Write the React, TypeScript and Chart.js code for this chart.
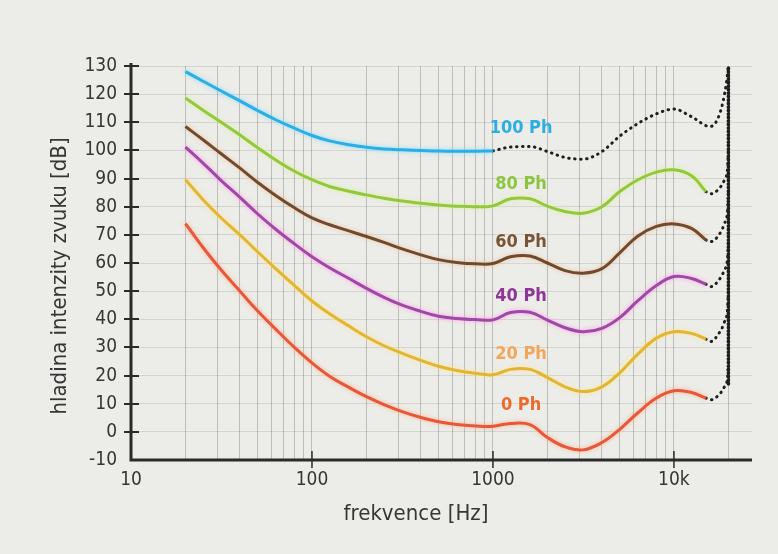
import React, { useEffect, useRef } from 'react';
import { Chart, registerables } from 'chart.js';

Chart.register(...registerables);

// ---------- data ----------
const freqs = [20, 25, 31.5, 40, 50, 63, 80, 100, 125, 160, 200, 250, 315, 400, 500, 630, 800, 1000, 1250, 1600, 2000, 2500, 3150, 4000, 5000, 6300, 8000, 10000, 12500, 15000];

const phon0 = [74, 65.5, 57.5, 50, 43, 36.5, 30, 24.5, 19.8, 15.8, 12.5, 9.7, 7.2, 5.1, 3.6, 2.6, 2.1, 2.0, 3.0, 2.6, -2, -5.3, -6.4, -3.8, 0.8, 6.7, 12, 14.6, 14, 12];
const phon20 = [89.6, 82.5, 76, 70, 64, 58, 52, 46.5, 42, 37.6, 33.8, 30.6, 27.9, 25.4, 23.3, 21.8, 20.8, 20.3, 22.2, 22.2, 19.3, 16, 14.3, 16, 20.9, 27.5, 33.3, 35.6, 35, 33];
const phon40 = [101.2, 95.5, 89.3, 83.3, 77.5, 72, 66.8, 62.2, 58.3, 54.5, 51, 47.8, 45, 42.8, 41.1, 40.3, 39.9, 39.8, 42.4, 42.5, 39.7, 37, 35.6, 36.8, 40.5, 46.5, 52, 55.2, 54.5, 52.5];
const phon60 = [108.5, 103.8, 98.8, 93.7, 88.7, 84, 79.6, 76, 73.6, 71.4, 69.4, 67.3, 65, 62.9, 61.2, 60.2, 59.7, 59.8, 62.2, 62.5, 60, 57.3, 56.4, 58, 63.5, 69.5, 73, 73.9, 72.3, 68.2];
const phon80 = [118.6, 114.3, 110, 105.5, 101, 96.6, 92.6, 89.6, 87.2, 85.5, 84.2, 83, 82, 81.2, 80.6, 80.2, 80, 80.3, 82.8, 82.8, 80.2, 78.3, 77.7, 80, 85.3, 89.5, 92.3, 93.1, 91, 85.4];

const freqs100 = [20, 25, 31.5, 40, 50, 63, 80, 100, 125, 160, 200, 250, 315, 400, 500, 630, 800, 1000];
const phon100 = [128, 124.6, 121.1, 117.6, 114.2, 110.9, 107.9, 105.3, 103.4, 102, 101.1, 100.5, 100.2, 100, 99.8, 99.7, 99.7, 99.8];

// dotted (extrapolated) parts
const freqs100Dot = [1000, 1250, 1600, 2000, 2500, 3150, 4000, 5000, 6300, 8000, 10000, 12500, 15800, 17900, 19500, 20000];
const phon100Dot = [99.8, 101.2, 101.4, 99.6, 97.5, 96.9, 99.6, 105, 109.5, 113, 114.7, 112, 108.5, 113, 124, 130];
const dotFreqs = [15000, 16000, 17500, 19000, 19800, 20000];
const phon80Dot = [85.4, 84.6, 86, 89.5, 94, 100];
const phon60Dot = [68.2, 67.6, 69.5, 74, 79, 85];
const phon40Dot = [52.5, 51.6, 53.5, 57.5, 62, 68];
const phon20Dot = [33, 32.1, 34.5, 39, 44, 50];
const phon0Dot = [12, 11.4, 12.8, 16, 19.5, 24];
const edgeFreqs = [20000, 20000];
const edgeValues = [17, 130];

// axis ticks
const xGridValues = [10, 20, 30, 40, 50, 60, 70, 80, 90, 100, 200, 300, 400, 500, 600, 700, 800, 900, 1000, 2000, 3000, 4000, 5000, 6000, 7000, 8000, 9000, 10000, 20000];
const xLabelValues = [10, 100, 1000, 10000];
const xLabelTexts = ['10', '100', '1000', '10k'];
const yMin = -10;
const yMax = 130;
const yStep = 10;

// curve labels
const curveLabels = ['100 Ph', '80 Ph', '60 Ph', '40 Ph', '20 Ph', '0 Ph'];
const curveLabelFreq = 1430;
const curveLabelDb = [108, 88.1, 67.5, 48, 27.7, 9.6];

// ---------- styles ----------
const W = 778;
const H = 554;
const BG = '#ecece8';
const FONT = '"DejaVu Sans Condensed", "Liberation Sans Narrow", sans-serif';
const TEXT = '#363636';
const lineColors = ['#2aaee3', '#93c83e', '#6e4b2f', '#a048a8', '#e2b532', '#e8573a'];
const haloColors = ['rgba(120,220,255,0.9)', 'rgba(210,245,130,0.8)', 'rgba(245,185,140,0.8)', 'rgba(255,150,230,0.9)', 'rgba(255,230,120,0.8)', 'rgba(255,170,120,0.8)'];
const labelColors = ['#2aaee3', '#8cc63e', '#7a5535', '#8e3596', '#f2a65a', '#ee6a2c'];

const pts = (xs: number[], ys: number[]) => xs.map((x, i) => ({ x, y: ys[i] }));

const solid = (xs: number[], ys: number[], i: number) => ({
  data: pts(xs, ys),
  borderColor: lineColors[i],
  borderWidth: 3,
  pointRadius: 0,
  tension: 0.4,
  halo: haloColors[i],
});

const dotted = (xs: number[], ys: number[], dash = [0.5, 5.5], width = 3) => ({
  data: pts(xs, ys),
  borderColor: '#1e1e1e',
  borderWidth: width,
  borderDash: dash,
  borderCapStyle: 'round',
  pointRadius: 0,
  cubicInterpolationMode: 'monotone',
});

const decor = {
  id: 'decor',
  beforeDatasetDraw(chart: any, args: any) {
    const ds = chart.data.datasets[args.index];
    if (ds.halo) {
      chart.ctx.save();
      chart.ctx.shadowColor = ds.halo;
      chart.ctx.shadowBlur = 4;
    }
  },
  afterDatasetDraw(chart: any, args: any) {
    const ds = chart.data.datasets[args.index];
    if (ds.halo) chart.ctx.restore();
  },
  afterDraw(chart: any) {
    const { ctx, chartArea: a, scales } = chart;
    const xs = scales.x;
    const ys = scales.y;
    ctx.save();
    // axis lines
    ctx.strokeStyle = '#2a2a2a';
    ctx.lineWidth = 3;
    ctx.beginPath();
    ctx.moveTo(a.left, a.top - 3);
    ctx.lineTo(a.left, a.bottom);
    ctx.lineTo(a.right, a.bottom);
    ctx.stroke();
    // y tick marks
    ctx.lineWidth = 2;
    for (let v = yMin + yStep; v <= yMax; v += yStep) {
      const py = Math.round(ys.getPixelForValue(v));
      ctx.beginPath();
      ctx.moveTo(a.left - 7, py);
      ctx.lineTo(a.left + 8, py);
      ctx.stroke();
    }
    // x tick marks
    ctx.lineWidth = 1.5;
    xLabelValues.slice(1).forEach((v) => {
      const px = xs.getPixelForValue(v);
      ctx.beginPath();
      ctx.moveTo(px, a.bottom - 9);
      ctx.lineTo(px, a.bottom + 8);
      ctx.stroke();
    });
    // titles
    ctx.fillStyle = TEXT;
    ctx.font = `22px ${FONT}`;
    ctx.textAlign = 'center';
    ctx.textBaseline = 'middle';
    ctx.fillText('frekvence [Hz]', 416, 514);
    ctx.save();
    ctx.translate(60, 276);
    ctx.rotate(-Math.PI / 2);
    ctx.fillText('hladina intenzity zvuku [dB]', 0, 0);
    ctx.restore();
    // curve labels
    ctx.font = `bold 18px ${FONT}`;
    curveLabels.forEach((t, i) => {
      ctx.fillStyle = labelColors[i];
      ctx.fillText(t, xs.getPixelForValue(curveLabelFreq), ys.getPixelForValue(curveLabelDb[i]));
    });
    ctx.restore();
  },
};

export default function App() {
  const ref = useRef<HTMLCanvasElement>(null);
  useEffect(() => {
    const canvas = ref.current as HTMLCanvasElement;
    const chart = new Chart(canvas, {
      type: 'line',
      data: {
        datasets: [
          solid(freqs100, phon100, 0),
          solid(freqs, phon80, 1),
          solid(freqs, phon60, 2),
          solid(freqs, phon40, 3),
          solid(freqs, phon20, 4),
          solid(freqs, phon0, 5),
          dotted(freqs100Dot, phon100Dot),
          dotted(dotFreqs, phon80Dot),
          dotted(dotFreqs, phon60Dot),
          dotted(dotFreqs, phon40Dot),
          dotted(dotFreqs, phon20Dot),
          dotted(dotFreqs, phon0Dot),
          { ...dotted(edgeFreqs, edgeValues, [1, 2.5], 3.5), cubicInterpolationMode: 'default', tension: 0 },
        ] as any,
      },
      options: {
        responsive: false,
        animation: false,
        layout: { padding: { left: 0, right: 26, top: 66, bottom: 0 } },
        plugins: { legend: { display: false }, tooltip: { enabled: false } },
        scales: {
          x: {
            type: 'logarithmic',
            min: 10,
            max: 27000,
            afterBuildTicks: (s: any) => {
              s.ticks = xGridValues.map((v) => ({ value: v }));
            },
            afterFit: (s: any) => {
              s.height = 94;
            },
            ticks: {
              autoSkip: false,
              maxRotation: 0,
              minRotation: 0,
              padding: 9,
              color: TEXT,
              font: { family: FONT, size: 19 },
              callback: (v: any) => {
                const k = xLabelValues.indexOf(Number(v));
                return k >= 0 ? xLabelTexts[k] : '';
              },
            },
            grid: {
              drawTicks: false,
              color: (c: any) => (c.tick && c.tick.value === 10 ? 'rgba(0,0,0,0)' : 'rgba(0,0,0,0.2)'),
              lineWidth: 1,
            },
            border: { display: false },
          },
          y: {
            min: yMin,
            max: yMax,
            afterFit: (s: any) => {
              s.width = 131;
            },
            ticks: {
              stepSize: yStep,
              padding: 14,
              color: TEXT,
              font: { family: FONT, size: 19 },
            },
            grid: { drawTicks: false, color: 'rgba(0,0,0,0.1)', lineWidth: 1 },
            border: { display: false },
          },
        },
      } as any,
      plugins: [decor],
    });
    return () => chart.destroy();
  }, []);
  return (
    <div style={{ position: 'fixed', left: 0, top: 0, width: W, height: H, background: BG }}>
      <canvas ref={ref} width={W} height={H} style={{ width: W, height: H, display: 'block' }} />
    </div>
  );
}
